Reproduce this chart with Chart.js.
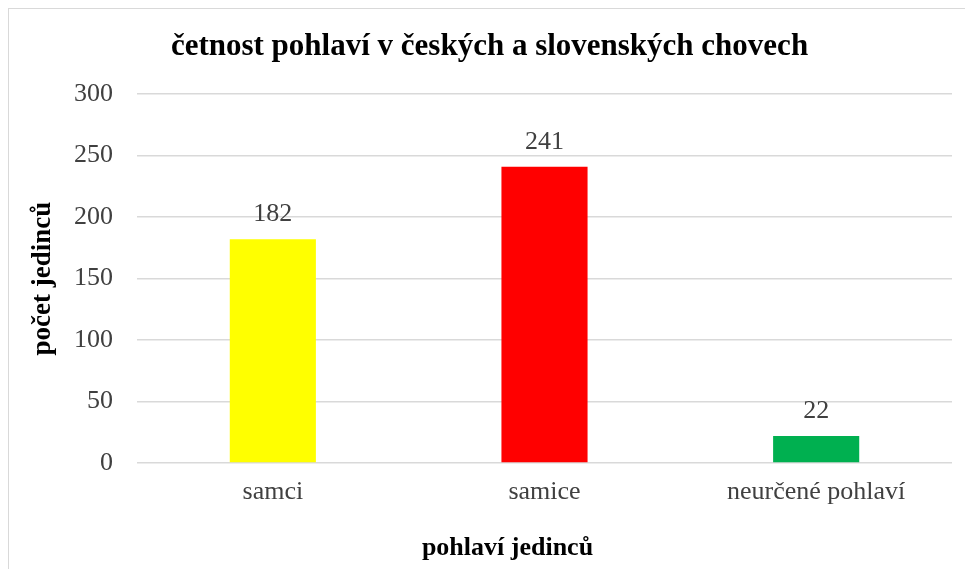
<!DOCTYPE html>
<html>
<head>
<meta charset="utf-8">
<script src="https://cdn.jsdelivr.net/npm/chart.js@4.4.0/dist/chart.umd.min.js"></script>
<style>
  body { margin: 0; background: #fff; }
  #wrap { position: relative; width: 965px; height: 569px; overflow: hidden; }
  #frame { position: absolute; left: 8px; top: 8px; width: 980px; height: 600px; border: 1px solid #d9d9d9; }
  canvas { position: absolute; left: 0; top: 0; }
</style>
</head>
<body>
<div id="wrap">
  <div id="frame"></div>
  <canvas id="chart" width="965" height="569"></canvas>
</div>
<script>
const categories = ['samci', 'samice', 'neurčené pohlaví'];
const counts = [182, 241, 22];
const barColors = ['#FFFF00', '#FF0000', '#00B050'];
const yTicks = [0, 50, 100, 150, 200, 250, 300];

const serif = '"Liberation Serif", "Times New Roman", serif';

// values above the bars
const valueLabels = {
    id: 'valueLabels',
    afterDatasetsDraw(chart) {
        const ctx = chart.ctx;
        const meta = chart.getDatasetMeta(0);
        ctx.save();
        ctx.font = '26px ' + serif;
        ctx.fillStyle = '#404040';
        ctx.textAlign = 'center';
        ctx.textBaseline = 'middle';
        meta.data.forEach((bar, i) => {
            ctx.fillText(counts[i], bar.x, bar.y - 25);
        });
        ctx.restore();
    }
};

// x axis title, sits a bit left of the plot centre like the original
const xTitle = {
    id: 'xTitle',
    afterDraw(chart) {
        const ctx = chart.ctx;
        const area = chart.chartArea;
        ctx.save();
        ctx.font = 'bold 26px ' + serif;
        ctx.fillStyle = '#000';
        ctx.textAlign = 'center';
        ctx.textBaseline = 'middle';
        ctx.fillText('pohlaví jedinců', (area.left + area.right) / 2 - 37, area.bottom + 85);
        ctx.restore();
    }
};

new Chart(document.getElementById('chart'), {
    type: 'bar',
    data: {
        labels: categories,
        datasets: [{
            data: counts,
            backgroundColor: barColors,
            borderWidth: 0,
            categoryPercentage: 1,
            barPercentage: 0.317
        }]
    },
    options: {
        responsive: false,
        animation: false,
        layout: { padding: { left: 27, right: 13, top: 6, bottom: 61 } },
        plugins: {
            legend: { display: false },
            tooltip: { enabled: false },
            title: {
                display: true,
                text: 'četnost pohlaví v českých a slovenských chovech',
                color: '#000',
                font: { family: serif, size: 31, weight: 'bold' },
                padding: { top: 22, bottom: 29 }
            }
        },
        scales: {
            x: {
                afterFit(scale) { scale.height = 45; },
                grid: { display: false },
                border: { display: false },
                ticks: {
                    color: '#404040',
                    font: { family: serif, size: 26 },
                    padding: 6
                }
            },
            y: {
                min: 0,
                max: 300,
                afterFit(scale) { scale.width = 110; },
                afterBuildTicks(scale) {
                    scale.ticks = yTicks.map(v => ({ value: v }));
                },
                grid: { color: '#d9d9d9', lineWidth: 1.5, drawTicks: false },
                border: { display: false },
                ticks: {
                    color: '#404040',
                    font: { family: serif, size: 26 },
                    padding: 24
                },
                title: {
                    display: true,
                    text: 'počet jedinců',
                    color: '#000',
                    font: { family: serif, size: 27, weight: 'bold' },
                    padding: { top: 0, bottom: 0 }
                }
            }
        }
    },
    plugins: [valueLabels, xTitle]
});
</script>
</body>
</html>
